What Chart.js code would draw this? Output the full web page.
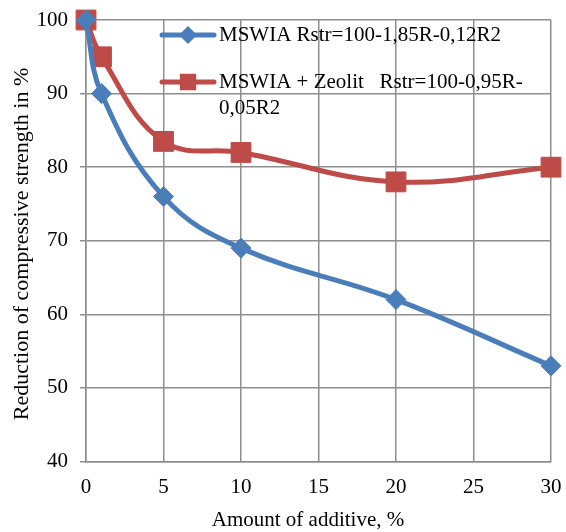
<!DOCTYPE html>
<html>
<head>
<meta charset="utf-8">
<script src="https://cdn.jsdelivr.net/npm/chart.js@4.4.1/dist/chart.umd.min.js"></script>
<style>
  html, body { margin: 0; padding: 0; background: #fff; }
  #wrap { width: 566px; height: 532px; }
</style>
</head>
<body>
<div id="wrap"><canvas id="c" width="566" height="532"></canvas></div>
<script>
// ---- data ----
const additive = [0, 1, 5, 10, 20, 30];
const mswia = [100, 90, 76, 69, 62, 53];
const mswiaZeolit = [100, 95, 83.5, 82, 78, 80];
const seriesLabels = [
  ['MSWIA Rstr=100-1,85R-0,12R2'],
  ['MSWIA + Zeolit   Rstr=100-0,95R-', '0,05R2']
];
const xTicks = [0, 5, 10, 15, 20, 25, 30];
const yTicks = [40, 50, 60, 70, 80, 90, 100];
const xTitle = 'Amount of additive, %';
const yTitle = 'Reduction of compressive strength in %';

const BLUE = '#4A7EBB';
const RED = '#BE4B48';
const GRID = '#8E8E8E';
const FONT = "'Liberation Serif', 'Times New Roman', serif";

const toXY = (xs, ys) => xs.map((x, i) => ({ x: x, y: ys[i] }));

const overlay = {
  id: 'overlay',
  afterDraw(chart) {
    const ctx = chart.ctx;
    const H = Chart.helpers;
    ctx.save();
    ctx.fillStyle = '#000';
    // axis titles
    ctx.textAlign = 'center';
    ctx.textBaseline = 'middle';
    ctx.font = '21px ' + FONT;
    ctx.fillText(xTitle, 308, 520);
    ctx.save();
    ctx.font = '22px ' + FONT;
    ctx.translate(22, 244);
    ctx.rotate(-Math.PI / 2);
    ctx.fillText(yTitle, 0, 0);
    ctx.restore();
    // legend
    ctx.font = '21px ' + FONT;
    const entries = [
      { color: BLUE, style: 'rectRot', r: 5.5, y: 35 },
      { color: RED, style: 'rect', r: 8, y: 82 }
    ];
    entries.forEach((e, i) => {
      ctx.strokeStyle = e.color;
      ctx.lineWidth = 5;
      ctx.lineCap = 'round';
      ctx.beginPath();
      ctx.moveTo(162, e.y);
      ctx.lineTo(214, e.y);
      ctx.stroke();
      ctx.fillStyle = e.color;
      H.drawPoint(ctx, { pointStyle: e.style, radius: e.r, borderWidth: 1, rotation: 0 }, 188, e.y);
      ctx.fill();
      ctx.fillStyle = '#000';
      ctx.textAlign = 'left';
      ctx.textBaseline = 'middle';
      seriesLabels[i].forEach((t, j) => ctx.fillText(t, 219, e.y + j * 26));
    });
    ctx.restore();
  }
};

new Chart(document.getElementById('c'), {
  type: 'line',
  data: {
    datasets: [
      {
        label: seriesLabels[0].join(' '),
        data: toXY(additive, mswia),
        borderColor: BLUE,
        backgroundColor: BLUE,
        borderWidth: 5,
        pointStyle: 'rectRot',
        pointRadius: 10,
        pointBorderWidth: 1,
        pointBackgroundColor: BLUE,
        pointBorderColor: BLUE,
        tension: 0.4,
        fill: false,
        clip: false
      },
      {
        label: seriesLabels[1].join(' '),
        data: toXY(additive, mswiaZeolit),
        borderColor: RED,
        backgroundColor: RED,
        borderWidth: 5,
        pointStyle: 'rect',
        pointRadius: 14,
        pointBorderWidth: 1,
        pointBackgroundColor: RED,
        pointBorderColor: RED,
        tension: 0.4,
        fill: false,
        clip: false
      }
    ]
  },
  options: {
    responsive: false,
    animation: false,
    devicePixelRatio: 1,
    layout: { padding: { top: 20, right: 14, left: 0, bottom: 0 } },
    plugins: { legend: { display: false }, tooltip: { enabled: false }, title: { display: false } },
    scales: {
      x: {
        type: 'linear',
        min: xTicks[0],
        max: xTicks[xTicks.length - 1],
        afterBuildTicks: (s) => { s.ticks = xTicks.map(v => ({ value: v })); },
        afterFit: (s) => { s.height = 70.5; s.paddingLeft = 0; s.paddingRight = 0; },
        grid: { color: GRID, lineWidth: 1.5, drawTicks: false },
        border: { color: GRID, width: 1.5 },
        ticks: { color: '#000', font: { family: FONT, size: 21 }, padding: 13, maxRotation: 0 }
      },
      y: {
        min: yTicks[0],
        max: yTicks[yTicks.length - 1],
        afterBuildTicks: (s) => { s.ticks = yTicks.map(v => ({ value: v })); },
        afterFit: (s) => { s.width = 86; s.paddingTop = 0; s.paddingBottom = 0; },
        grid: { color: GRID, lineWidth: 1.5, tickLength: 6 },
        border: { color: GRID, width: 1.5 },
        ticks: { color: '#000', font: { family: FONT, size: 21 }, padding: 12 }
      }
    }
  },
  plugins: [overlay]
});
</script>
</body>
</html>
